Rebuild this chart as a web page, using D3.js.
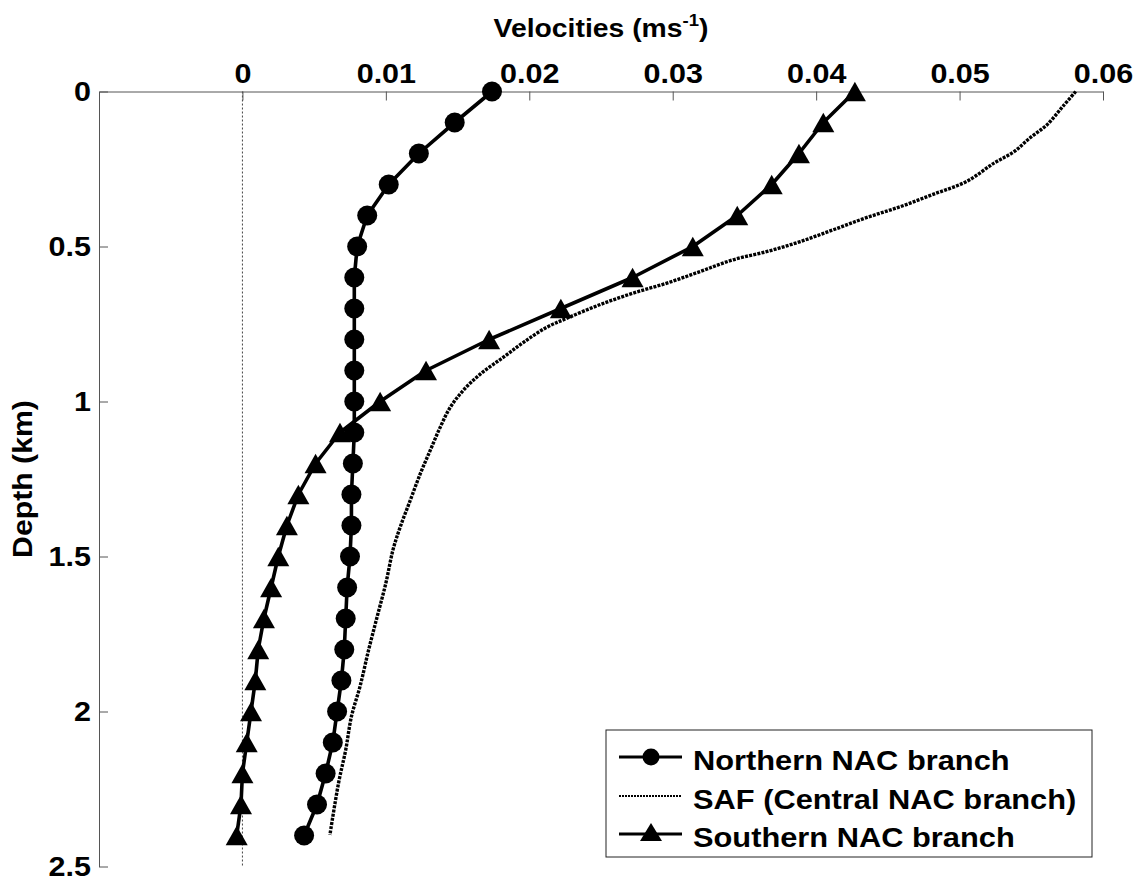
<!DOCTYPE html>
<html><head><meta charset="utf-8">
<script src="https://cdn.jsdelivr.net/npm/d3@7"></script>
<style>
html,body{margin:0;padding:0;background:#fff;}
svg{display:block;font-family:"Liberation Sans",Arial,Helvetica,sans-serif;font-weight:bold;}
</style></head><body>
<svg id="chart" width="1138" height="882"></svg>
<script>
// ---------- data ----------
const depths = [0,0.1,0.2,0.3,0.4,0.5,0.6,0.7,0.8,0.9,1.0,1.1,1.2,1.3,1.4,1.5,1.6,1.7,1.8,1.9,2.0,2.1,2.2,2.3,2.4];
const northern = [0.0174,0.0148,0.0123,0.0102,0.0087,0.0080,0.0078,0.0078,0.0078,0.0078,0.0078,0.0078,0.0077,0.0076,0.0076,0.0075,0.0073,0.0072,0.0071,0.0069,0.0066,0.0063,0.0058,0.0052,0.0043];
const southern = [0.0427,0.0405,0.0388,0.0369,0.0345,0.0314,0.0272,0.0222,0.0172,0.0128,0.0096,0.0068,0.0051,0.0039,0.0031,0.0025,0.0020,0.0015,0.0011,0.0009,0.0006,0.0003,0.0000,-0.0001,-0.0004];
const safDepth = [0,0.048,0.107,0.15,0.194,0.231,0.29,0.331,0.371,0.407,0.446,0.484,0.516,0.543,0.581,0.618,0.651,0.688,0.73,0.761,0.809,0.857,0.911,0.964,1.018,1.082,1.157,1.233,1.319,1.405,1.478,1.586,1.693,1.801,1.919,2.016,2.124,2.231,2.398];
const safVel = [0.0581,0.0572,0.0561,0.0549,0.0538,0.0524,0.0505,0.0482,0.0459,0.0435,0.0412,0.0389,0.0366,0.0342,0.0319,0.0296,0.0272,0.0249,0.0227,0.0212,0.0196,0.0182,0.0166,0.0154,0.0145,0.0138,0.0131,0.0124,0.0117,0.0110,0.0105,0.0100,0.0094,0.0088,0.0082,0.0076,0.0072,0.0067,0.0061];
const xTickValues = [0,0.01,0.02,0.03,0.04,0.05,0.06];
const xTickLabels = ["0","0.01","0.02","0.03","0.04","0.05","0.06"];
const yTickValues = [0,0.5,1,1.5,2,2.5];
const yTickLabels = ["0","0.5","1","1.5","2","2.5"];
const seriesNames = ["Northern NAC branch","SAF (Central NAC branch)","Southern NAC branch"];
const xTitleMain = "Velocities (ms", xTitleSup = "-1", xTitleEnd = ")";
const yTitle = "Depth (km)";

// ---------- setup ----------
const svg = d3.select('#chart');
const x = d3.scaleLinear().domain([-0.01,0.06]).range([99,1103]);
const y = d3.scaleLinear().domain([0,2.5]).range([91.5,866.5]);
const AX = '#555';
const STRETCH = 1.09;
function stretch(sel, f){
  sel.each(function(){
    const w = this.getComputedTextLength();
    d3.select(this).attr('textLength', w*f).attr('lengthAdjust','spacingAndGlyphs');
  });
}

// zero line
svg.append('line')
  .attr('x1', x(0)).attr('x2', x(0)).attr('y1', y(0)).attr('y2', y(2.5))
  .attr('stroke', '#444').attr('stroke-width', 1).attr('stroke-dasharray', '2,2');

// axes
const xAxis = d3.axisTop(x).tickValues(xTickValues).tickFormat((d,i)=>xTickLabels[i])
  .tickSizeInner(-9).tickSizeOuter(0).tickPadding(8.5);
const gx = svg.append('g').attr('transform', `translate(0,${y(0)})`).call(xAxis);
const yAxis = d3.axisLeft(y).tickValues(yTickValues).tickFormat((d,i)=>yTickLabels[i])
  .tickSizeInner(-9).tickSizeOuter(0).tickPadding(8);
const gy = svg.append('g').attr('transform', `translate(${x(-0.01)},0)`).call(yAxis);
[gx, gy].forEach(g => {
  g.select('.domain').attr('stroke', AX).attr('stroke-width', 1);
  g.selectAll('.tick line').attr('stroke', AX).attr('stroke-width', 1);
  g.selectAll('.tick text').attr('fill', '#000')
    .style('font-family', '"Liberation Sans",Arial,Helvetica,sans-serif')
    .style('font-weight', 'bold').style('font-size', '28px');
  g.attr('font-family', null).attr('font-size', null);
});
stretch(gx.selectAll('.tick text'), STRETCH);
stretch(gy.selectAll('.tick text'), STRETCH);

// titles
const xt = svg.append('g').attr('transform', `translate(${(x.range()[0]+x.range()[1])/2},37) scale(${STRETCH},1)`)
  .append('text').attr('text-anchor', 'middle').style('font-size', '26px');
xt.append('tspan').text(xTitleMain);
xt.append('tspan').attr('dy', -11).style('font-size', '17px').text(xTitleSup);
xt.append('tspan').attr('dy', 11).text(xTitleEnd);

svg.append('g').attr('transform', `translate(32,${(y.range()[0]+y.range()[1])/2}) rotate(-90) scale(1.12,1)`)
  .append('text').attr('text-anchor', 'middle').style('font-size', '27px').text(yTitle);

// ---------- series ----------
const line = d3.line().x(d => x(d[0])).y(d => y(d[1]));
const northPts = depths.map((d,i) => [northern[i], d]);
const southPts = depths.map((d,i) => [southern[i], d]);
const safPts = safDepth.map((d,i) => [safVel[i], d]);

svg.append('path').datum(safPts)
  .attr('d', d3.line().x(d => x(d[0])).y(d => y(d[1])).curve(d3.curveCatmullRom.alpha(0.5)))
  .attr('fill', 'none').attr('stroke', '#000').attr('stroke-width', 3.4).attr('stroke-dasharray', '3,1.2');

svg.append('path').datum(southPts).attr('d', line)
  .attr('fill', 'none').attr('stroke', '#000').attr('stroke-width', 3.6).attr('stroke-linejoin', 'round');
svg.append('path').datum(northPts).attr('d', line)
  .attr('fill', 'none').attr('stroke', '#000').attr('stroke-width', 3.6).attr('stroke-linejoin', 'round');

function tri(cx, cy, w, h){
  return `M${cx},${cy-h/2}L${cx+w/2},${cy+h/2}L${cx-w/2},${cy+h/2}Z`;
}
svg.append('g').selectAll('path').data(southPts).join('path')
  .attr('d', d => tri(x(d[0]), y(d[1]), 22, 19.5)).attr('fill', '#000');
svg.append('g').selectAll('circle').data(northPts).join('circle')
  .attr('cx', d => x(d[0])).attr('cy', d => y(d[1])).attr('r', 10).attr('fill', '#000');

// ---------- legend ----------
const lg = svg.append('g');
lg.append('rect').attr('x', 606).attr('y', 730).attr('width', 486).attr('height', 127)
  .attr('fill', '#fff').attr('stroke', '#222').attr('stroke-width', 1);
const rowsY = [757, 796, 834];
const lx1 = 619, lx2 = 682, lmx = 651, ltx = 693;
// Northern
lg.append('line').attr('x1', lx1).attr('x2', lx2).attr('y1', rowsY[0]).attr('y2', rowsY[0]).attr('stroke', '#000').attr('stroke-width', 3);
lg.append('circle').attr('cx', lmx).attr('cy', rowsY[0]).attr('r', 8.5).attr('fill', '#000');
// SAF
lg.append('line').attr('x1', lx1).attr('x2', lx2).attr('y1', rowsY[1]).attr('y2', rowsY[1]).attr('stroke', '#000').attr('stroke-width', 2.2).attr('stroke-dasharray', '2,1');
// Southern
lg.append('line').attr('x1', lx1).attr('x2', lx2).attr('y1', rowsY[2]).attr('y2', rowsY[2]).attr('stroke', '#000').attr('stroke-width', 3);
lg.append('path').attr('d', tri(lmx, rowsY[2]-2, 22, 18)).attr('fill', '#000');
const lt = lg.selectAll('text.lbl').data(seriesNames).join('text').attr('class', 'lbl')
  .attr('x', ltx).attr('y', (d,i) => rowsY[i] + 12.5).style('font-size', '28px').text(d => d);
stretch(lt, 1.1);
</script>
</body></html>
